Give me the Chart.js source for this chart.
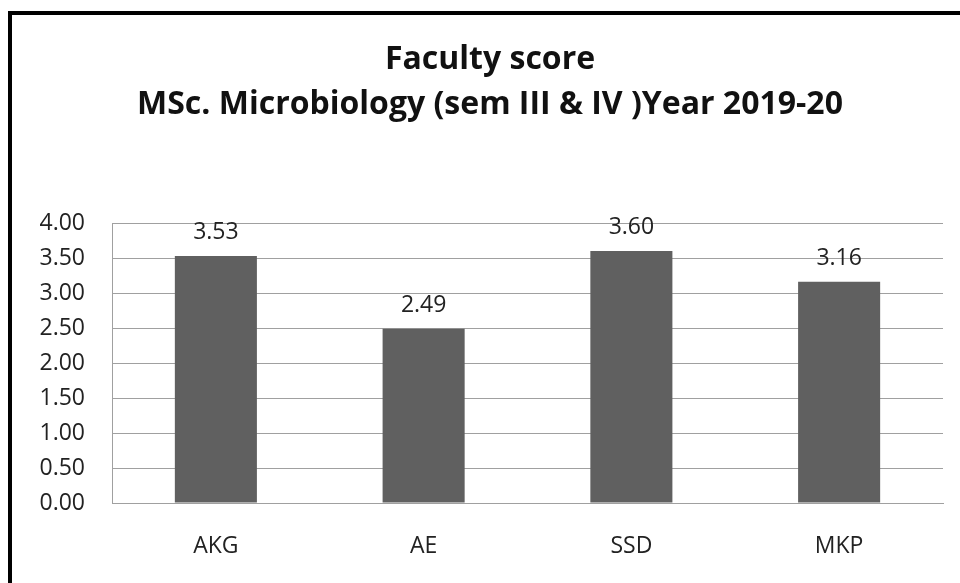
<!DOCTYPE html>
<html>
<head>
<meta charset="utf-8">
<script src="https://cdn.jsdelivr.net/npm/chart.js@4/dist/chart.umd.min.js"></script>
<style>
  html, body { margin: 0; padding: 0; background: #fff; overflow: hidden; }
  #wrap { position: relative; width: 960px; height: 583px; overflow: hidden; background: #fff; }
  #frame { position: absolute; left: 8px; top: 11px; width: 1100px; height: 800px; border: 4px solid #000; pointer-events: none; box-sizing: border-box; }
  canvas { position: absolute; left: 0; top: 0; }
</style>
</head>
<body>
<div id="wrap">
  <canvas id="c" width="960" height="583"></canvas>
  <div id="frame"></div>
</div>
<script>
const titleLines = ["Faculty score", "MSc. Microbiology (sem III & IV )Year 2019-20"];
const categories = ["AKG", "AE", "SSD", "MKP"];
const scores = [3.53, 2.49, 3.60, 3.16];
const yTicks = [0, 0.5, 1, 1.5, 2, 2.5, 3, 3.5, 4];

const FONT = "'Open Sans', 'Liberation Sans', sans-serif";

const valueLabels = {
  id: 'valueLabels',
  afterDatasetsDraw(chart) {
    const ctx = chart.ctx;
    const meta = chart.getDatasetMeta(0);
    ctx.save();
    ctx.font = "23px " + FONT;
    ctx.fillStyle = "#222";
    ctx.textAlign = "center";
    ctx.textBaseline = "alphabetic";
    meta.data.forEach((bar, i) => {
      ctx.fillText(scores[i].toFixed(2), bar.x, bar.y - 17);
    });
    ctx.restore();
  }
};

new Chart(document.getElementById('c'), {
  type: 'bar',
  data: {
    labels: categories,
    datasets: [{
      data: scores,
      backgroundColor: '#606060',
      borderWidth: 0,
      categoryPercentage: 1.0,
      barPercentage: 0.395
    }]
  },
  options: {
    responsive: false,
    animation: false,
    devicePixelRatio: 1,
    layout: { padding: { left: 37, right: 17, top: 0, bottom: 0 } },
    plugins: {
      legend: { display: false },
      tooltip: { enabled: false },
      title: {
        display: true,
        text: titleLines,
        color: '#111',
        font: { family: FONT, size: 32, weight: 'bold', lineHeight: '45px' },
        padding: { top: 37, bottom: 96 }
      }
    },
    scales: {
      x: {
        grid: { display: false, drawTicks: false },
        border: { display: true, color: '#a0a0a0', width: 1 },
        ticks: { color: '#222', font: { family: FONT, size: 23 }, padding: 30 },
        afterFit(scale) { scale.height = 80; }
      },
      y: {
        min: 0, max: 4,
        afterBuildTicks(scale) { scale.ticks = yTicks.map(v => ({ value: v })); },
        grid: { color: '#a0a0a0', lineWidth: 1, drawTicks: false },
        border: { display: true, color: '#a0a0a0', width: 1 },
        ticks: {
          color: '#222',
          font: { family: FONT, size: 23 },
          padding: 27,
          callback: v => Number(v).toFixed(2)
        },
        afterFit(scale) { scale.width = 75; }
      }
    }
  },
  plugins: [valueLabels]
});
</script>
</body>
</html>
